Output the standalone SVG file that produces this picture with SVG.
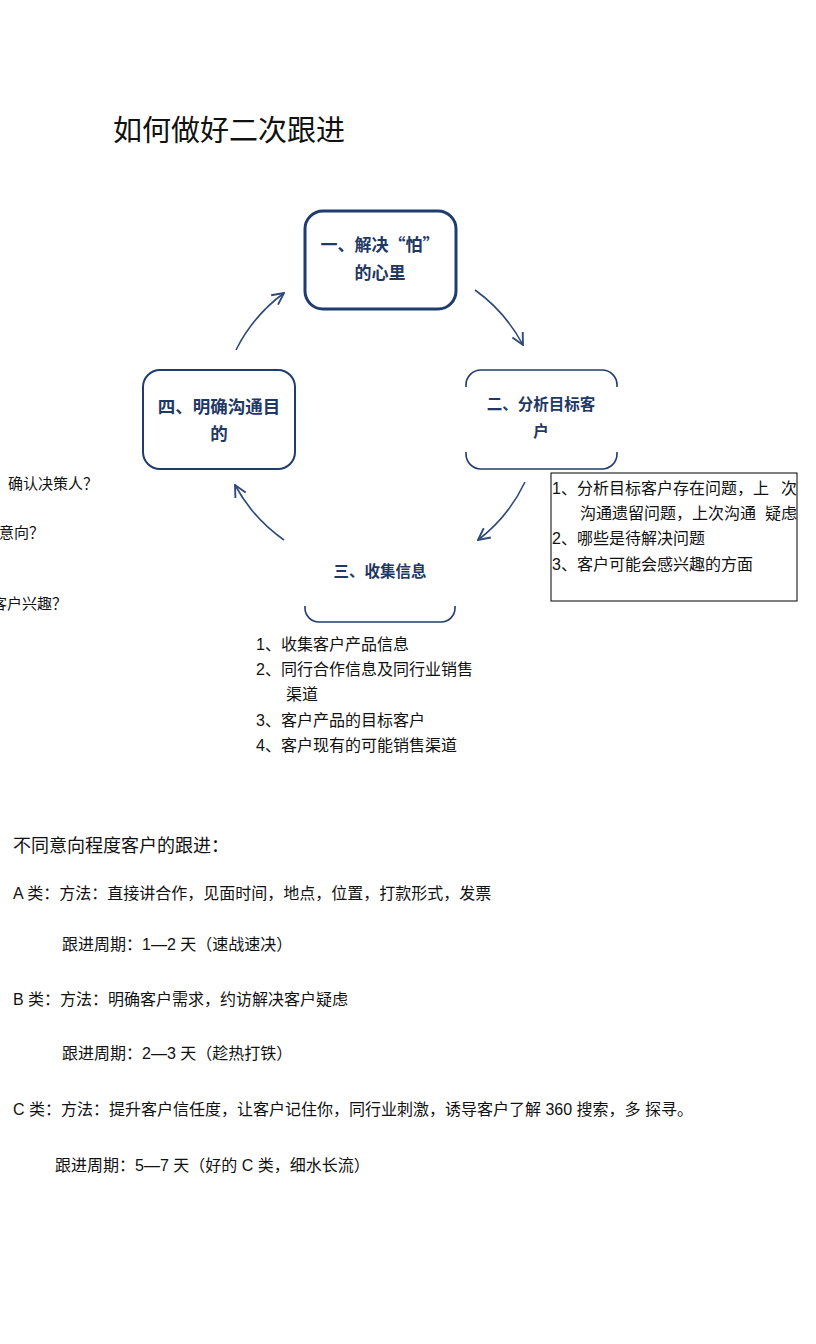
<svg xmlns="http://www.w3.org/2000/svg" width="816" height="1344" viewBox="0 0 816 1344">
<style>
.t{font-family:"Liberation Sans","Noto Sans CJK SC",sans-serif;fill:#111;}
.b{font-family:"Noto Sans CJK SC",sans-serif;font-weight:bold;fill:#1f3864;text-anchor:middle;}
.box{fill:#fff;stroke:#1f3c6e;}
.arc{fill:none;stroke:#2e4a78;stroke-width:1.6;marker-end:url(#ah);}
</style>
<defs>
<marker id="ah" markerUnits="userSpaceOnUse" markerWidth="14" markerHeight="14" viewBox="0 0 12 12" refX="11" refY="6" orient="auto">
<path d="M1,1 L11,6 L1,11" fill="none" stroke="#2e4a78" stroke-width="1.6"/>
</marker>
</defs>
<rect width="816" height="1344" fill="#fff"/>
<text class="t" x="113" y="141" font-size="29">如何做好二次跟进</text>

<g id="connectors">
<path class="arc" d="M475,290 A160,160 0 0 1 523,345"/>
<path class="arc" d="M525,482 A160,160 0 0 1 478,540"/>
<path class="arc" d="M284,540 A160,160 0 0 1 235,485"/>
<path class="arc" d="M236,350 A160,160 0 0 1 284,293"/>
</g>

<g id="node1">
<rect class="box" x="305" y="211" width="151" height="98" rx="18" stroke-width="3"/>
<text class="b" x="380" y="251" font-size="17">一、解决“怕”</text>
<text class="b" x="380" y="279" font-size="17">的心里</text>
</g>

<g id="node2">
<path d="M466,387 V385 A15,15 0 0 1 481,370 H602 A15,15 0 0 1 617,385 V387" fill="none" stroke="#1f3c6e" stroke-width="1.6"/>
<path d="M466,452 V454 A15,15 0 0 0 481,469 H602 A15,15 0 0 0 617,454 V452" fill="none" stroke="#1f3c6e" stroke-width="1.6"/>
<text class="b" x="541" y="410" font-size="15.5">二、分析目标客</text>
<text class="b" x="541" y="437" font-size="15.5">户</text>
</g>

<g id="node3">
<path d="M305,606 V608 A14,14 0 0 0 319,622 H441 A14,14 0 0 0 455,608 V606" fill="none" stroke="#1f3c6e" stroke-width="1.6"/>
<text class="b" x="380" y="577" font-size="15.5">三、收集信息</text>
</g>

<g id="node4">
<rect class="box" x="143" y="370" width="152" height="99" rx="17" stroke-width="2"/>
<text class="b" x="219" y="413" font-size="17.5">四、明确沟通目</text>
<text class="b" x="219" y="440" font-size="17.5">的</text>
</g>

<g id="note2">
<rect x="551" y="473" width="246" height="128" fill="#fff" stroke="#000" stroke-width="1"/>
<text class="t" x="552" y="494" font-size="16">1、分析目标客户存在问题，上</text>
<text class="t" x="781" y="494" font-size="16">次</text>
<text class="t" x="580" y="519" font-size="16">沟通遗留问题，上次沟通</text>
<text class="t" x="765" y="519" font-size="16">疑虑</text>
<text class="t" x="552" y="544" font-size="16">2、哪些是待解决问题</text>
<text class="t" x="552" y="570" font-size="16">3、客户可能会感兴趣的方面</text>
</g>

<g id="note4">
<text class="t" x="8" y="489" font-size="15">确认决策人？</text>
<text class="t" x="-1" y="538" font-size="15">意向？</text>
<text class="t" x="-8" y="609" font-size="15">客户兴趣？</text>
</g>

<g id="note3">
<text class="t" x="256" y="650" font-size="16">1、收集客户产品信息</text>
<text class="t" x="256" y="675" font-size="16">2、同行合作信息及同行业销售</text>
<text class="t" x="286" y="700" font-size="16">渠道</text>
<text class="t" x="256" y="726" font-size="16">3、客户产品的目标客户</text>
<text class="t" x="256" y="751" font-size="16">4、客户现有的可能销售渠道</text>
</g>

<g id="levels">
<text class="t" x="13" y="852" font-size="18">不同意向程度客户的跟进：</text>
<text class="t" x="13" y="899" font-size="16">A 类：方法：直接讲合作，见面时间，地点，位置，打款形式，发票</text>
<text class="t" x="62" y="950" font-size="16">跟进周期：1—2 天（速战速决）</text>
<text class="t" x="13" y="1005" font-size="16">B 类：方法：明确客户需求，约访解决客户疑虑</text>
<text class="t" x="62" y="1059" font-size="16">跟进周期：2—3 天（趁热打铁）</text>
<text class="t" x="13" y="1115" font-size="16">C 类：方法：提升客户信任度，让客户记住你，同行业刺激，诱导客户了解 360 搜索，多 探寻。</text>
<text class="t" x="55" y="1171" font-size="16">跟进周期：5—7 天（好的 C 类，细水长流）</text>
</g>
</svg>
